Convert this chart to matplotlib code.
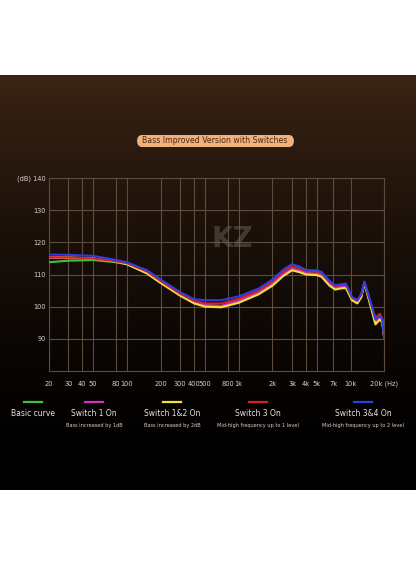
import numpy as np
import matplotlib.pyplot as plt
from matplotlib.patches import FancyBboxPatch

# frequency points (Hz)
freqs = [20, 30, 50, 80, 100, 150, 200, 300, 400, 500, 700, 1000, 1500, 2000, 2500,
         3000, 3500, 4000, 5000, 5500, 6500, 7300, 8300, 9100, 10300, 11500, 12500,
         13300, 14500, 16700, 18300, 19200, 20000]

basic = [113.8, 114.3, 114.5, 113.8, 113.2, 110.5, 107.5, 103.6, 101.3, 100.5, 100.2, 101.8, 104.3, 107.0, 110.0,
         111.8, 111.2, 110.4, 110.2, 109.7, 107.0, 105.8, 106.2, 106.3, 102.5, 101.5, 103.5,
         107.5, 103.0, 95.0, 96.5, 95.5, 90.5]
switch1 = [115.2, 115.1, 114.9, 114.0, 113.3, 110.6, 107.6, 103.6, 101.3, 100.5, 100.2, 101.8, 104.3, 107.0, 110.0,
           111.8, 111.2, 110.4, 110.2, 109.7, 107.0, 105.8, 106.2, 106.3, 102.5, 101.5, 103.5,
           107.5, 103.0, 95.5, 97.0, 96.0, 90.5]
switch12 = [115.4, 115.3, 115.0, 114.0, 113.2, 110.4, 107.4, 103.4, 101.0, 100.0, 99.8, 101.2, 103.8, 106.5, 109.5,
            111.3, 110.7, 110.0, 109.8, 109.3, 106.5, 105.3, 105.7, 105.8, 102.0, 101.0, 103.0,
            107.3, 102.5, 94.5, 96.0, 95.0, 90.5]
switch3 = [115.4, 115.3, 115.0, 114.1, 113.5, 111.0, 108.0, 104.0, 101.8, 101.0, 101.0, 102.5, 105.0, 107.8, 110.8,
           112.6, 112.0, 111.0, 110.9, 110.4, 107.6, 106.3, 106.7, 106.8, 102.8, 101.8, 103.8,
           107.7, 103.3, 96.5, 97.8, 96.5, 90.5]
switch34 = [116.2, 116.1, 115.8, 114.5, 113.8, 111.4, 108.5, 104.5, 102.3, 102.0, 102.0, 103.2, 105.6, 108.4, 111.5,
            113.2, 112.5, 111.4, 111.3, 110.8, 108.0, 106.6, 107.0, 107.2, 103.0, 102.0, 104.0,
            107.8, 103.5, 96.0, 97.2, 96.0, 90.3]

series = [("Basic curve", "", "#3ec43a", basic),
          ("Switch 1 On", "Bass increased by 1dB", "#d62fc4", switch1),
          ("Switch 1&2 On", "Bass increased by 2dB", "#f2e03a", switch12),
          ("Switch 3 On", "Mid-high frequency up to 1 level", "#d4202a", switch3),
          ("Switch 3&4 On", "Mid-high frequency up to 2 level", "#2c3ee0", switch34)]

xticks = [20, 30, 40, 50, 80, 100, 200, 300, 400, 500, 800, 1000, 2000, 3000, 4000, 5000, 7000, 10000, 20000]
xlabels = ["20", "30", "40", "50", "80", "100", "200", "300", "400", "500", "800", "1k",
           "2k", "3k", "4k", "5k", "7k", "10k", "20k (Hz)"]
yticks = [90, 100, 110, 120, 130, 140]
ylabels = ["90", "100", "110", "120", "130", "(dB) 140"]

W, H = 416, 567
fig = plt.figure(figsize=(W / 100, H / 100), dpi=100)
fig.patch.set_facecolor("white")

# dark background band with a brown glow at the top
bg = fig.add_axes([0, (H - 490) / H, 1, (490 - 75) / H])
t = np.linspace(0, 1, 256)[:, None]
top = np.array([0.23, 0.14, 0.08])
grad = top[None, None, :] * (1 - t[..., None]) ** 1.6
bg.imshow(np.repeat(grad, 4, axis=1), aspect="auto", extent=[0, 1, 0, 1])
bg.set_axis_off()

# title pill
pill = FancyBboxPatch((137 / W, 1 - 147 / H), 157 / W, 12 / H,
                      boxstyle="round,pad=0,rounding_size=0.012",
                      transform=fig.transFigure, facecolor="#f4b07a", edgecolor="none", zorder=5)
fig.patches.append(pill)
fig.text(215 / W, 1 - 141 / H, "Bass Improved Version with Switches", ha="center", va="center",
         fontsize=5.6, color="#4a2a15", zorder=6)

ax = fig.add_axes([48.7 / W, (H - 371) / H, 335.5 / W, 193 / H])
ax.set_facecolor("none")
ax.set_xscale("log")
ax.set_xlim(20, 20000)
ax.set_ylim(80, 140)

grid_c = "#5e4c3e"
for x in xticks:
    ax.axvline(x, color=grid_c, lw=0.8, zorder=1)
for y in yticks:
    ax.axhline(y, color=grid_c, lw=0.8, zorder=1)
for s in ax.spines.values():
    s.set_color(grid_c)
    s.set_linewidth(0.8)

# watermark
ax.text(np.sqrt(600 * 1300), 121, "KZ", ha="center", va="center", fontsize=20,
        fontweight="bold", color="#6a615a", alpha=0.5, zorder=1)

for name, sub, col, vals in series:
    ax.plot(freqs, vals, color=col, lw=1.5, zorder=3)

ax.set_xticks(xticks)
ax.set_xticklabels(xlabels)
ax.xaxis.set_minor_locator(plt.NullLocator())
ax.set_yticks(yticks)
ax.set_yticklabels(ylabels)
ax.tick_params(length=0, colors="#d8d0c8", labelsize=4.8)
ax.tick_params(axis="x", pad=7)
ax.tick_params(axis="y", pad=2)

# legend
legx = [33, 94, 172, 258, 363]
for (name, sub, col, vals), lx in zip(series, legx):
    fig.add_artist(plt.Line2D([(lx - 9) / W, (lx + 9) / W], [1 - 402 / H] * 2,
                              color=col, lw=1.6, transform=fig.transFigure))
    fig.text(lx / W, 1 - 413 / H, name, ha="center", va="center", fontsize=5.5, color="#e8e2dc")
    if sub:
        fig.text(lx / W, 1 - 425 / H, sub, ha="center", va="center", fontsize=3.6, color="#d8d0c8")

fig.savefig("out.png", dpi=100)
